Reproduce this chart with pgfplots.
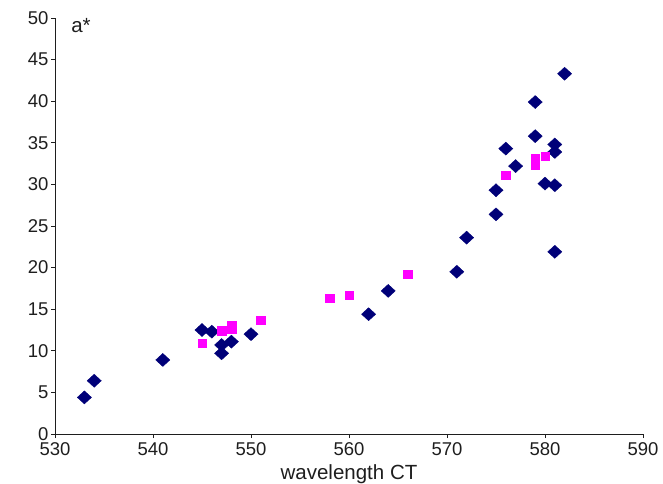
\documentclass[border=0pt]{standalone}
\usepackage{fontspec}
\setmainfont{Liberation Sans}
\usepackage{pgfplots}
\pgfplotsset{compat=1.18}
\definecolor{navyc}{RGB}{0,0,120}
\definecolor{magc}{RGB}{255,0,255}
\definecolor{axc}{RGB}{30,30,30}
\begin{document}
\begin{tikzpicture}
\useasboundingbox (0,0) rectangle (663pt,483pt);
\begin{axis}[
  at={(55pt,49pt)}, anchor=south west,
  width=588pt, height=416pt, scale only axis,
  xmin=530, xmax=590, ymin=0, ymax=50,
  axis x line*=bottom, axis y line*=left,
  axis line style={axc, line width=0.8pt},
  xtick={530,540,...,590}, ytick={0,5,...,50},
  tick align=outside, major tick length=4pt,
  tick style={axc, line width=0.8pt},
  /pgf/number format/assume math mode=true,
  ticklabel style={font=\fontsize{18.5}{20}\selectfont, text=axc},
  xticklabel style={yshift=-1.5pt},
  yticklabel style={xshift=1pt},
  xlabel={wavelength CT},
  xlabel style={at={(0.5,0)}, anchor=base, yshift=-45pt, font=\fontsize{20.5}{22}\selectfont, text=axc},
  clip=false,
]
\addplot[only marks, mark=diamond*, mark size=6.5pt, mark options={xscale=1.45, fill=navyc, draw=navyc}] coordinates {
(533,4.4) (534,6.4) (541,8.9) (545,12.5) (546,12.3) (547,10.7) (547,9.7)
(548,11.1) (550,12.0) (562,14.4) (564,17.2) (571,19.5) (572,23.6)
(575,26.4) (575,29.3) (576,34.3) (577,32.2) (579,39.9) (579,35.8)
(580,30.1) (581,29.9) (581,34.8) (581,33.9) (581,21.9) (582,43.3)
};
\addplot[only marks, mark=square*, mark size=4.3pt, mark options={fill=magc, draw=magc}] coordinates {
(545,10.9) (547,12.4) (548,13.1) (548,12.6) (551,13.7) (558,16.3)
(560,16.7) (566,19.2) (576,31.1) (579,33.1) (579,32.3) (580,33.4)
};
\node[anchor=base west, font=\fontsize{20.5}{22}\selectfont, text=axc] at (axis cs:531.3,48.2) {a*};
\end{axis}
\end{tikzpicture}
\end{document}
